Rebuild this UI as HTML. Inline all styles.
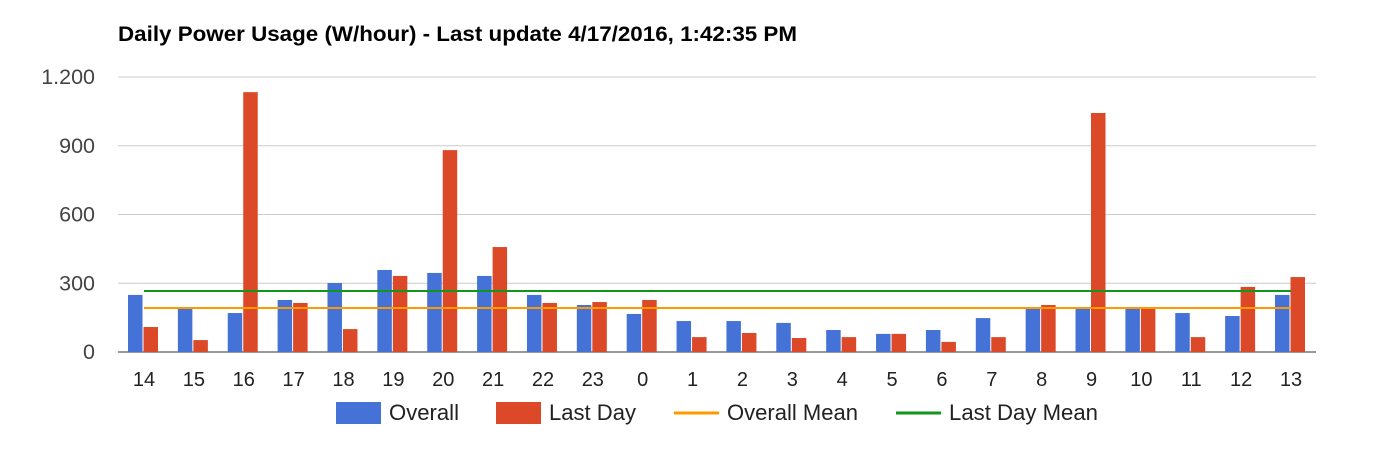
<!DOCTYPE html>
<html><head><meta charset="utf-8"><style>
body{margin:0;background:#fff;font-family:"Liberation Sans",sans-serif}
svg text{font-family:"Liberation Sans",sans-serif}
</style></head><body>
<svg id="chart" width="1382" height="450">
<text x="118" y="41" font-size="21" font-weight="bold" fill="#000" textLength="679" lengthAdjust="spacingAndGlyphs">Daily Power Usage (W/hour) - Last update 4/17/2016, 1:42:35 PM</text>
<g id="grid"></g><g id="bars"></g><g id="lines"></g><g id="xlabels"></g>
<g>
<rect x="336" y="402" width="45" height="22" fill="#4472d6"/>
<text x="389" y="420" font-size="22" fill="#222" textLength="70" lengthAdjust="spacingAndGlyphs">Overall</text>
<rect x="496" y="402" width="45" height="22" fill="#dc4928"/>
<text x="549" y="420" font-size="22" fill="#222" textLength="87" lengthAdjust="spacingAndGlyphs">Last Day</text>
<line x1="674" y1="413" x2="719" y2="413" stroke="#ff9900" stroke-width="3"/>
<text x="727" y="420" font-size="22" fill="#222" textLength="131" lengthAdjust="spacingAndGlyphs">Overall Mean</text>
<line x1="896" y1="413" x2="941" y2="413" stroke="#109618" stroke-width="3"/>
<text x="949" y="420" font-size="22" fill="#222" textLength="149" lengthAdjust="spacingAndGlyphs">Last Day Mean</text>
</g>
</svg>
<script>
const categories=["14","15","16","17","18","19","20","21","22","23","0","1","2","3","4","5","6","7","8","9","10","11","12","13"];
const overall=[249,196,170,227,301,358,345,332,249,205,166,135,135,127,96,79,96,148,196,196,196,170,157,249];
const lastDay=[109,52,1134,214,100,332,881,458,214,218,227,65,83,61,65,79,44,65,205,1043,196,65,284,327];
const overallMean=192;
const lastDayMean=266;
const yTicks=[0,300,600,900,1200];
const yTickLabels=["0","300","600","900","1.200"];
const NS="http://www.w3.org/2000/svg";
const y=v=>352-v*(275/1200);
const x=i=>144+i*(1147/23);
function mk(tag,attrs,parent){const e=document.createElementNS(NS,tag);for(const k in attrs)e.setAttribute(k,attrs[k]);document.getElementById(parent).appendChild(e);return e;}
yTicks.forEach((t,i)=>{
 const l=mk('line',{x1:118,x2:1316,y1:y(t),y2:y(t),stroke:t===0?'#333':'#ccc','stroke-width':1},'grid');
 
 
 const tx=mk('text',{x:95,y:y(t)+7,'text-anchor':'end','font-size':21.5,fill:'#444'},'grid');
 tx.textContent=yTickLabels[i];
 
 
});
categories.forEach((c,i)=>{
 const b=mk('rect',{x:x(i)-16,y:y(overall[i]),width:14.5,height:y(0)-y(overall[i]),fill:'#4472d6'},'bars');
 
 
 const r=mk('rect',{x:x(i)-0.5,y:y(lastDay[i]),width:14.5,height:y(0)-y(lastDay[i]),fill:'#dc4928'},'bars');
 
 
 const t=mk('text',{x:x(i),y:386,'text-anchor':'middle','font-size':20,fill:'#222'},'xlabels');
 t.textContent=c;
 
 
});
const m1=mk('line',{x1:x(0),x2:x(23),y1:y(overallMean),y2:y(overallMean),stroke:'#ff9900','stroke-width':2},'lines');


const m2=mk('line',{x1:x(0),x2:x(23),y1:y(lastDayMean),y2:y(lastDayMean),stroke:'#109618','stroke-width':2},'lines');


</script>
</body></html>
